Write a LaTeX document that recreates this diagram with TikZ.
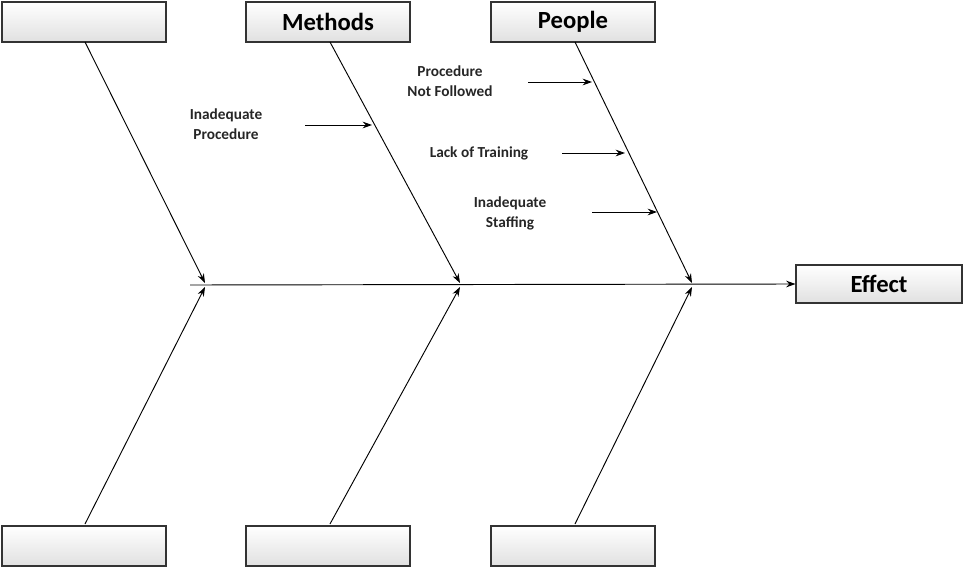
\documentclass[tikz,border=0pt]{standalone}
\usepackage{fontspec}
\setmainfont{Carlito}
\usetikzlibrary{arrows.meta}
\begin{document}
\begin{tikzpicture}[x=0.0264cm, y=-0.0264cm,
  catbox/.style={draw=black!80, line width=0.8pt, top color=white, bottom color=black!12,
    minimum width=164*0.0264cm, minimum height=40*0.0264cm, inner sep=0pt,
    font=\bfseries\fontsize{18.5}{22}\selectfont},
  causetext/.style={align=center, font=\bfseries\fontsize{11.5}{15}\selectfont, text=black!85},
  bone/.style={line width=0.7pt, -{Stealth[length=7pt, width=5pt]}}]
\useasboundingbox (0,0) rectangle (964,574);

% category boxes
\node[catbox] (tl) at (84,22) {};
\node[catbox] (methods) at (328,22) {Methods};
\node[catbox] (people) at (573,22) {People};
\node[catbox] (bl) at (84,546) {};
\node[catbox] (bm) at (328,546) {};
\node[catbox] (br) at (573,546) {};
\node[catbox, minimum width=166*0.0264cm, minimum height=38*0.0264cm] (effect) at (879,284) {Effect};

% spine
\coordinate (head) at (190,285);
\draw[bone] (head) -- (effect.west);

% bones
\coordinate (j1t) at (205,283); \coordinate (j1b) at (205,287);
\coordinate (j2t) at (460,283); \coordinate (j2b) at (460,287);
\coordinate (j3t) at (692,283); \coordinate (j3b) at (692,287);
\draw[bone] (85,42) -- (j1t);
\draw[bone] (330,42) -- (j2t);
\draw[bone] (575,42) -- (j3t);
\draw[bone] (85,524) -- (j1b);
\draw[bone] (330,524) -- (j2b);
\draw[bone] (575,524) -- (j3b);

% causes
\node[causetext] (c1) at (226,124) {Inadequate\\Procedure};
\node[causetext] (c2) at (450,81) {Procedure\\Not Followed};
\node[causetext] (c3) at (479,153) {Lack of Training};
\node[causetext] (c4) at (510,213) {Inadequate\\Staffing};
\coordinate (a1) at (372,125); \coordinate (a2) at (592,82);
\coordinate (a3) at (625,153); \coordinate (a4) at (657,212);
\draw[bone] (305,125) -- (a1);
\draw[bone] (528,82) -- (a2);
\draw[bone] (562,153) -- (a3);
\draw[bone] (592,212) -- (a4);
\end{tikzpicture}
\end{document}
